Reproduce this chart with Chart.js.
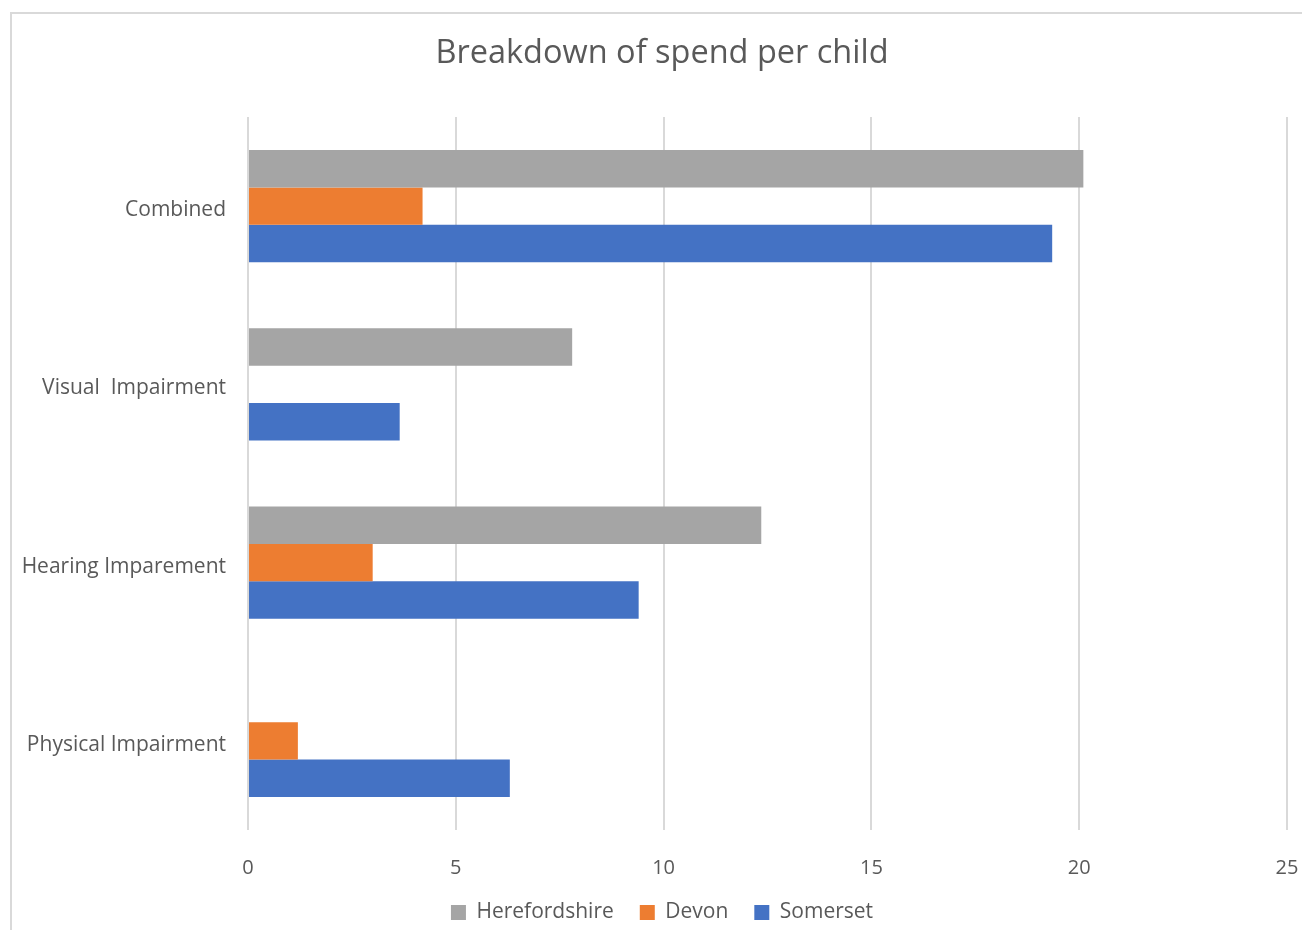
<!DOCTYPE html>
<html>
<head>
<meta charset="utf-8">
<script src="https://cdn.jsdelivr.net/npm/chart.js@4/dist/chart.umd.min.js"></script>
<style>
  html, body { margin: 0; padding: 0; background: #fff; }
  #marco { position: absolute; left: 0; top: 0; width: 1302px; height: 930px; overflow: hidden; }
  #borde { position: absolute; left: 10px; top: 12px; width: 1320px; height: 960px;
           border-left: 2px solid #d9d9d9; border-top: 2px solid #d9d9d9; }
  #grafico { position: absolute; left: 0; top: 0; }
</style>
</head>
<body>
<div id="marco">
  <div id="borde"></div>
  <canvas id="grafico" width="1302" height="930"></canvas>
</div>
<script>
// categorias de arriba a abajo
const categorias = ['Combined', 'Visual  Impairment', 'Hearing Imparement', 'Physical Impairment'];
const herefordshire = [20.1, 7.8, 12.35, null];
const devon = [4.2, null, 3.0, 1.2];
const somerset = [19.35, 3.65, 9.4, 6.3];
const ticksX = [0, 5, 10, 15, 20, 25];

const colores = { herefordshire: '#A5A5A5', devon: '#ED7D31', somerset: '#4472C4' };
const textoColor = '#595959';
const fuente = "'Open Sans', 'Noto Sans', sans-serif";

Chart.defaults.font.family = fuente;
Chart.defaults.color = textoColor;

new Chart(document.getElementById('grafico'), {
    type: 'bar',
    data: {
        labels: categorias,
        datasets: [
            { label: 'Herefordshire', data: herefordshire, backgroundColor: colores.herefordshire },
            { label: 'Devon', data: devon, backgroundColor: colores.devon },
            { label: 'Somerset', data: somerset, backgroundColor: colores.somerset }
        ]
    },
    options: {
        indexAxis: 'y',
        responsive: false,
        animation: false,
        categoryPercentage: 0.63,
        barPercentage: 1,
        layout: { padding: { left: 22, right: 0, top: 34, bottom: -3 } },
        scales: {
            x: {
                min: ticksX[0],
                max: ticksX[ticksX.length - 1],
                clip: false,
                afterBuildTicks: (scale) => { scale.ticks = ticksX.map(v => ({ value: v })); },
                afterFit: (scale) => {
                    scale.height = 46;
                    scale.paddingLeft = 0;
                    scale.paddingRight = 15;
                },
                grid: { color: '#d9d9d9', lineWidth: 2, drawTicks: false },
                border: { display: false },
                ticks: { padding: 26, font: { size: 20 }, color: textoColor }
            },
            y: {
                grid: { display: false, drawTicks: false },
                border: { display: false },
                afterFit: (scale) => { scale.width = 226; },
                ticks: { padding: 22, labelOffset: 4, font: { size: 21 }, color: textoColor }
            }
        },
        plugins: {
            title: {
                display: true,
                text: 'Breakdown of spend per child',
                font: { size: 32.5, weight: 'normal' },
                color: textoColor,
                padding: { top: 0, bottom: 44 }
            },
            legend: {
                position: 'bottom',
                labels: { boxWidth: 15, boxHeight: 15, font: { size: 21 }, color: textoColor, padding: 26 }
            },
            tooltip: { enabled: false }
        }
    }
});
</script>
</body>
</html>
